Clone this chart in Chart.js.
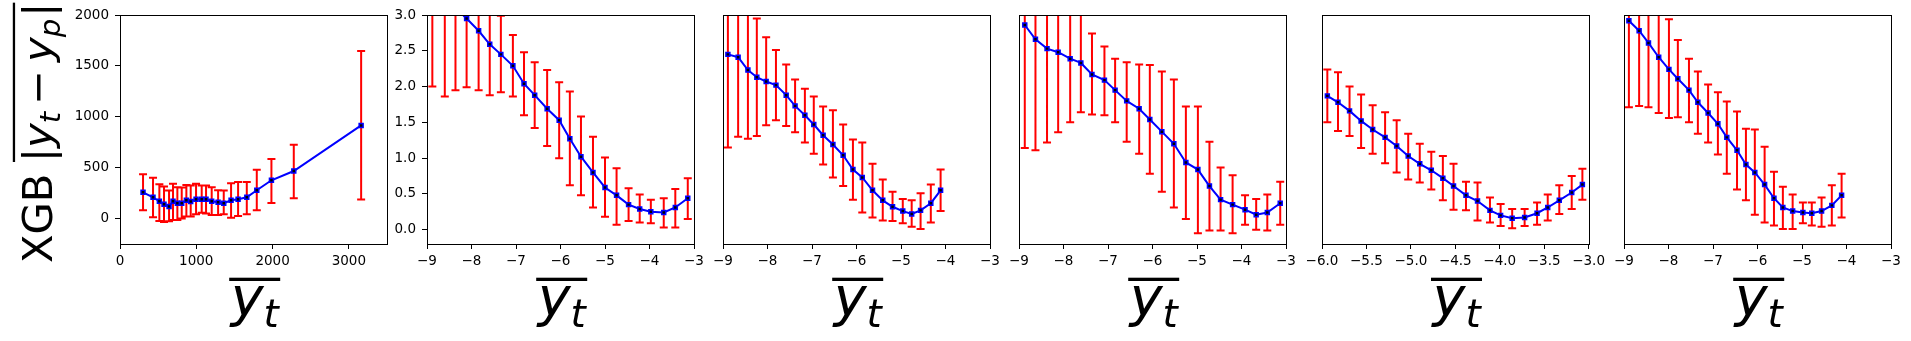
<!DOCTYPE html>
<html>
<head>
<meta charset="utf-8">
<script src="https://cdn.jsdelivr.net/npm/chart.js@4.4.0/dist/chart.umd.min.js"></script>
<style>
    html, body { margin: 0; padding: 0; background: #fff; }
    #fig { position: relative; width: 1911px; height: 341px; overflow: hidden; }
    #fig canvas { position: absolute; top: 0; }
</style>
</head>
<body>
<div id="fig"></div>
<script>
// ---- data ----
var p1X  = [302, 433, 516, 577, 643, 695, 752, 809, 870, 927, 997, 1071, 1128, 1202, 1286, 1360, 1456, 1548, 1662, 1793, 1985, 2278, 3161];
var p1Y  = [258, 209, 170, 141, 118, 170, 150, 150, 180, 167, 190, 190, 190, 170, 160, 150, 180, 190, 209, 278, 376, 467, 915];
var p1Lo = [82, 13, -23, -33, -26, -13, -13, 0, 20, 20, 42, 56, 49, 36, 36, 42, 7, 26, 42, 82, 154, 199, 186];
var p1Hi = [435, 402, 337, 314, 275, 343, 307, 304, 330, 324, 343, 324, 324, 307, 278, 275, 346, 359, 359, 480, 585, 725, 1647];

var p2X  = [-8.88, -8.60, -8.36, -8.11, -7.84, -7.59, -7.34, -7.07, -6.82, -6.58, -6.30, -6.03, -5.79, -5.54, -5.27, -5.00, -4.74, -4.47, -4.22, -3.97, -3.68, -3.42, -3.14];
var p2Y  = [3.40, 3.25, 3.10, 2.95, 2.78, 2.59, 2.45, 2.29, 2.04, 1.88, 1.69, 1.53, 1.27, 1.02, 0.80, 0.59, 0.48, 0.35, 0.29, 0.25, 0.24, 0.31, 0.44];
var p2Lo = [2.00, 1.86, 1.95, 1.99, 1.95, 1.88, 1.92, 1.86, 1.60, 1.42, 1.17, 1.00, 0.62, 0.48, 0.31, 0.18, 0.07, 0.12, 0.10, 0.09, 0.03, 0.03, 0.15];
var p2Hi = [4.80, 4.64, 4.25, 3.91, 3.61, 3.30, 2.99, 2.72, 2.48, 2.34, 2.23, 2.06, 1.93, 1.58, 1.30, 1.01, 0.86, 0.58, 0.49, 0.42, 0.44, 0.57, 0.72];

var p3X  = [-8.89, -8.66, -8.44, -8.24, -8.03, -7.81, -7.58, -7.38, -7.16, -6.96, -6.75, -6.53, -6.30, -6.08, -5.87, -5.64, -5.41, -5.19, -4.96, -4.76, -4.56, -4.33, -4.11];
var p3Y  = [2.45, 2.41, 2.23, 2.13, 2.07, 2.02, 1.88, 1.73, 1.60, 1.47, 1.32, 1.19, 1.04, 0.84, 0.73, 0.55, 0.41, 0.32, 0.26, 0.22, 0.27, 0.37, 0.55];
var p3Lo = [1.15, 1.30, 1.27, 1.31, 1.46, 1.53, 1.45, 1.36, 1.22, 1.06, 0.91, 0.73, 0.61, 0.42, 0.24, 0.17, 0.13, 0.12, 0.09, 0.04, 0.01, 0.10, 0.26];
var p3Hi = [3.75, 3.52, 3.19, 2.95, 2.69, 2.51, 2.31, 2.10, 1.97, 1.86, 1.72, 1.67, 1.47, 1.26, 1.22, 0.92, 0.70, 0.53, 0.43, 0.41, 0.51, 0.63, 0.84];

var p4X  = [-8.87, -8.63, -8.37, -8.12, -7.85, -7.61, -7.36, -7.08, -6.84, -6.58, -6.30, -6.06, -5.79, -5.52, -5.25, -4.98, -4.72, -4.47, -4.20, -3.92, -3.67, -3.42, -3.13];
var p4Y  = [2.86, 2.66, 2.53, 2.48, 2.39, 2.33, 2.17, 2.09, 1.95, 1.80, 1.69, 1.54, 1.37, 1.20, 0.94, 0.84, 0.61, 0.42, 0.35, 0.28, 0.21, 0.24, 0.37];
var p4Lo = [1.14, 1.11, 1.22, 1.36, 1.50, 1.64, 1.61, 1.60, 1.50, 1.23, 1.06, 0.78, 0.53, 0.31, 0.15, -0.05, -0.01, -0.01, -0.05, 0.07, 0.00, -0.01, 0.07];
var p4Hi = [4.58, 4.21, 3.84, 3.60, 3.28, 3.05, 2.74, 2.56, 2.39, 2.34, 2.31, 2.30, 2.21, 2.10, 1.72, 1.72, 1.23, 0.87, 0.76, 0.48, 0.43, 0.49, 0.67];

var p5X  = [-5.94, -5.82, -5.69, -5.56, -5.43, -5.29, -5.16, -5.03, -4.90, -4.77, -4.64, -4.52, -4.38, -4.25, -4.11, -3.99, -3.86, -3.72, -3.58, -3.46, -3.33, -3.19, -3.07];
var p5Y  = [1.87, 1.78, 1.66, 1.52, 1.40, 1.29, 1.17, 1.03, 0.92, 0.83, 0.72, 0.61, 0.48, 0.40, 0.27, 0.20, 0.16, 0.17, 0.23, 0.31, 0.41, 0.52, 0.63];
var p5Lo = [1.50, 1.38, 1.31, 1.14, 1.06, 0.93, 0.80, 0.70, 0.66, 0.56, 0.41, 0.28, 0.27, 0.13, 0.10, 0.05, 0.02, 0.05, 0.07, 0.13, 0.22, 0.29, 0.42];
var p5Hi = [2.24, 2.20, 2.00, 1.89, 1.74, 1.64, 1.53, 1.34, 1.20, 1.09, 1.03, 0.92, 0.67, 0.66, 0.45, 0.36, 0.29, 0.29, 0.38, 0.49, 0.62, 0.75, 0.85];

var p6X  = [-8.89, -8.66, -8.45, -8.22, -7.99, -7.79, -7.54, -7.34, -7.11, -6.89, -6.69, -6.46, -6.26, -6.06, -5.84, -5.63, -5.43, -5.21, -4.98, -4.78, -4.56, -4.33, -4.11];
var p6Y  = [2.92, 2.78, 2.61, 2.41, 2.24, 2.11, 1.95, 1.78, 1.63, 1.48, 1.29, 1.11, 0.91, 0.80, 0.63, 0.44, 0.31, 0.26, 0.24, 0.23, 0.26, 0.34, 0.48];
var p6Lo = [1.71, 1.73, 1.71, 1.63, 1.56, 1.57, 1.50, 1.34, 1.22, 1.05, 0.78, 0.56, 0.41, 0.21, 0.10, 0.06, 0.01, 0.01, 0.09, 0.06, 0.04, 0.06, 0.17];
var p6Hi = [4.13, 3.83, 3.51, 3.19, 2.94, 2.65, 2.39, 2.21, 2.03, 1.92, 1.79, 1.65, 1.41, 1.40, 1.16, 0.81, 0.60, 0.49, 0.38, 0.38, 0.45, 0.62, 0.78];

// tick labels
var p1XTicks = [0, 1000, 2000, 3000];
var p1YTicks = [0, 500, 1000, 1500, 2000];
var logXTicks = [-9, -8, -7, -6, -5, -4, -3];
var p5XTicks = [-6.0, -5.5, -5.0, -4.5, -4.0, -3.5, -3.0];
var logYTicks = [0.0, 0.5, 1.0, 1.5, 2.0, 2.5, 3.0];

// ---- layout ----
var PLOT_W = 267, PLOT_TOP = 15, PLOT_BOTTOM = 244, CANVAS_H = 341, PAD_R = 20;

function fmt(v, dec) {
    var s = Math.abs(v).toFixed(dec);
    return (v < 0 ? "\u2212" : "") + s;
}

var errorBars = {
    id: "errorBars",
    beforeDatasetsDraw: function (chart, args, opts) {
        var ctx = chart.ctx, a = chart.chartArea;
        var xs = chart.scales.x, ys = chart.scales.y;
        ctx.save();
        ctx.beginPath();
        ctx.rect(a.left, a.top, a.right - a.left, a.bottom - a.top);
        ctx.clip();
        ctx.strokeStyle = "#ff0000";
        ctx.lineWidth = 2;
        ctx.beginPath();
        for (var i = 0; i < opts.x.length; i++) {
            var px = xs.getPixelForValue(opts.x[i]);
            var lo = ys.getPixelForValue(opts.lo[i]);
            var hi = ys.getPixelForValue(opts.hi[i]);
            ctx.moveTo(px, lo); ctx.lineTo(px, hi);
            ctx.moveTo(px - 4, lo); ctx.lineTo(px + 4, lo);
            ctx.moveTo(px - 4, hi); ctx.lineTo(px + 4, hi);
        }
        ctx.stroke();
        ctx.restore();
    }
};

var frame = {
    id: "frame",
    afterDatasetsDraw: function (chart) {
        var ctx = chart.ctx, a = chart.chartArea;
        ctx.save();
        ctx.strokeStyle = "#000";
        ctx.lineWidth = 1;
        ctx.strokeRect(Math.round(a.left) + 0.5, Math.round(a.top) + 0.5,
            Math.round(a.right - a.left), Math.round(a.bottom - a.top));
        ctx.restore();
    }
};

// overlined italic y_t under each panel
var xLabel = {
    id: "xLabel",
    afterDraw: function (chart) {
        var ctx = chart.ctx, a = chart.chartArea;
        var F = 55.6, base = 315.5;
        var cx = (a.left + a.right) / 2 + 1.2;
        var x0 = cx - 25.5;
        ctx.save();
        ctx.fillStyle = "#000";
        ctx.textBaseline = "alphabetic";
        ctx.textAlign = "left";
        ctx.font = "italic " + F + "px 'DejaVu Sans'";
        var wy = ctx.measureText("y").width;
        ctx.fillText("y", x0 + 1.5, base);
        ctx.font = "italic " + (F * 0.7) + "px 'DejaVu Sans'";
        ctx.fillText("t", x0 + 1.5 + wy, base + 11.5);
        ctx.fillRect(x0, 277.7, 51, 3.3);
        ctx.restore();
    }
};

// rotated y label on the first panel
var yLabel = {
    id: "yLabel",
    afterDraw: function (chart) {
        var ctx = chart.ctx;
        var F = 41.7, sub = F * 0.7, drop = 8;
        var up = "'DejaVu Sans'";
        ctx.save();
        ctx.translate(52, 263);
        ctx.rotate(-Math.PI / 2);
        ctx.fillStyle = "#000";
        ctx.textBaseline = "alphabetic";
        ctx.textAlign = "left";
        ctx.font = F + "px " + up;
        ctx.fillText("XGB", 0, 0);
        var s = 101, s0 = s;
        ctx.fillText("|", s, 0);
        s += ctx.measureText("|").width;
        ctx.font = "italic " + F + "px " + up;
        ctx.fillText("y", s, 0);
        s += ctx.measureText("y").width;
        ctx.font = "italic " + sub + "px " + up;
        ctx.fillText("t", s, drop);
        s += ctx.measureText("t").width + 7;
        ctx.font = F + "px " + up;
        ctx.fillText("\u2212", s, 0);
        s += ctx.measureText("\u2212").width + 8;
        ctx.font = "italic " + F + "px " + up;
        ctx.fillText("y", s, 0);
        s += ctx.measureText("y").width;
        ctx.font = "italic " + sub + "px " + up;
        ctx.fillText("p", s, drop);
        s += ctx.measureText("p").width + 2;
        ctx.font = F + "px " + up;
        ctx.fillText("|", s, 0);
        s += ctx.measureText("|").width;
        ctx.fillRect(s0, -39.2, s - s0, 2.3);
        ctx.restore();
    }
};

Chart.defaults.font.family = "'DejaVu Sans'";
Chart.defaults.color = "#000";

function makePanel(p) {
    var canvas = document.createElement("canvas");
    canvas.width = p.yW + PLOT_W + PAD_R;
    canvas.height = CANVAS_H;
    canvas.style.left = (p.left - p.yW) + "px";
    document.getElementById("fig").appendChild(canvas);

    var points = p.x.map(function (v, i) { return { x: v, y: p.y[i] }; });
    var tickGrid = { display: true, drawOnChartArea: false, drawTicks: true, tickLength: 5, color: "#000", lineWidth: 1 };

    return new Chart(canvas.getContext("2d"), {
        type: "line",
        data: {
            datasets: [{
                data: points,
                borderColor: "#0000ff",
                borderWidth: 2,
                tension: 0,
                pointStyle: "rect",
                pointRadius: 2.8,
                pointBackgroundColor: "#000",
                pointBorderColor: "#0000ff",
                pointBorderWidth: 1.5,
                clip: 0,
            }],
        },
        options: {
            responsive: false,
            animation: false,
            events: [],
            layout: { padding: { left: 0, right: PAD_R, top: PLOT_TOP, bottom: 0 } },
            plugins: {
                legend: { display: false },
                tooltip: { enabled: false },
                errorBars: { x: p.x, lo: p.lo, hi: p.hi },
            },
            scales: {
                x: {
                    type: "linear",
                    min: p.xMin,
                    max: p.xMax,
                    afterBuildTicks: function (s) { s.ticks = p.xTicks.map(function (v) { return { value: v }; }); },
                    afterFit: function (s) { s.height = CANVAS_H - PLOT_BOTTOM; },
                    grid: tickGrid,
                    border: { display: false },
                    ticks: {
                        padding: 4,
                        maxRotation: 0,
                        autoSkip: false,
                        font: { size: 13.5 },
                        callback: function (v) { return fmt(v, p.xDec); },
                    },
                },
                y: {
                    type: "linear",
                    min: p.yMin,
                    max: p.yMax,
                    afterBuildTicks: function (s) { s.ticks = p.yTicks.map(function (v) { return { value: v }; }); },
                    afterFit: function (s) { s.width = p.yW; },
                    grid: p.yShow ? tickGrid : { display: false },
                    border: { display: false },
                    ticks: {
                        display: p.yShow,
                        padding: 6,
                        autoSkip: false,
                        font: { size: 13.5 },
                        callback: function (v) { return fmt(v, p.yDec); },
                    },
                },
            },
        },
        plugins: [errorBars, frame, xLabel].concat(p.extra || []),
    });
}

var panels = [
    { left: 120, yW: 120, x: p1X, y: p1Y, lo: p1Lo, hi: p1Hi, xMin: 0, xMax: 3500, xTicks: p1XTicks, xDec: 0,
      yMin: -250, yMax: 2000, yTicks: p1YTicks, yDec: 0, yShow: true, extra: [yLabel] },
    { left: 427, yW: 40, x: p2X, y: p2Y, lo: p2Lo, hi: p2Hi, xMin: -9, xMax: -3, xTicks: logXTicks, xDec: 0,
      yMin: -0.2, yMax: 3.0, yTicks: logYTicks, yDec: 1, yShow: true },
    { left: 723, yW: 40, x: p3X, y: p3Y, lo: p3Lo, hi: p3Hi, xMin: -9, xMax: -3, xTicks: logXTicks, xDec: 0,
      yMin: -0.2, yMax: 3.0, yTicks: logYTicks, yDec: 1, yShow: false },
    { left: 1019, yW: 40, x: p4X, y: p4Y, lo: p4Lo, hi: p4Hi, xMin: -9, xMax: -3, xTicks: logXTicks, xDec: 0,
      yMin: -0.2, yMax: 3.0, yTicks: logYTicks, yDec: 1, yShow: false },
    { left: 1322, yW: 40, x: p5X, y: p5Y, lo: p5Lo, hi: p5Hi, xMin: -6, xMax: -3, xTicks: p5XTicks, xDec: 1,
      yMin: -0.2, yMax: 3.0, yTicks: logYTicks, yDec: 1, yShow: false },
    { left: 1624, yW: 40, x: p6X, y: p6Y, lo: p6Lo, hi: p6Hi, xMin: -9, xMax: -3, xTicks: logXTicks, xDec: 0,
      yMin: -0.2, yMax: 3.0, yTicks: logYTicks, yDec: 1, yShow: false },
];

panels.forEach(makePanel);
</script>
</body>
</html>
